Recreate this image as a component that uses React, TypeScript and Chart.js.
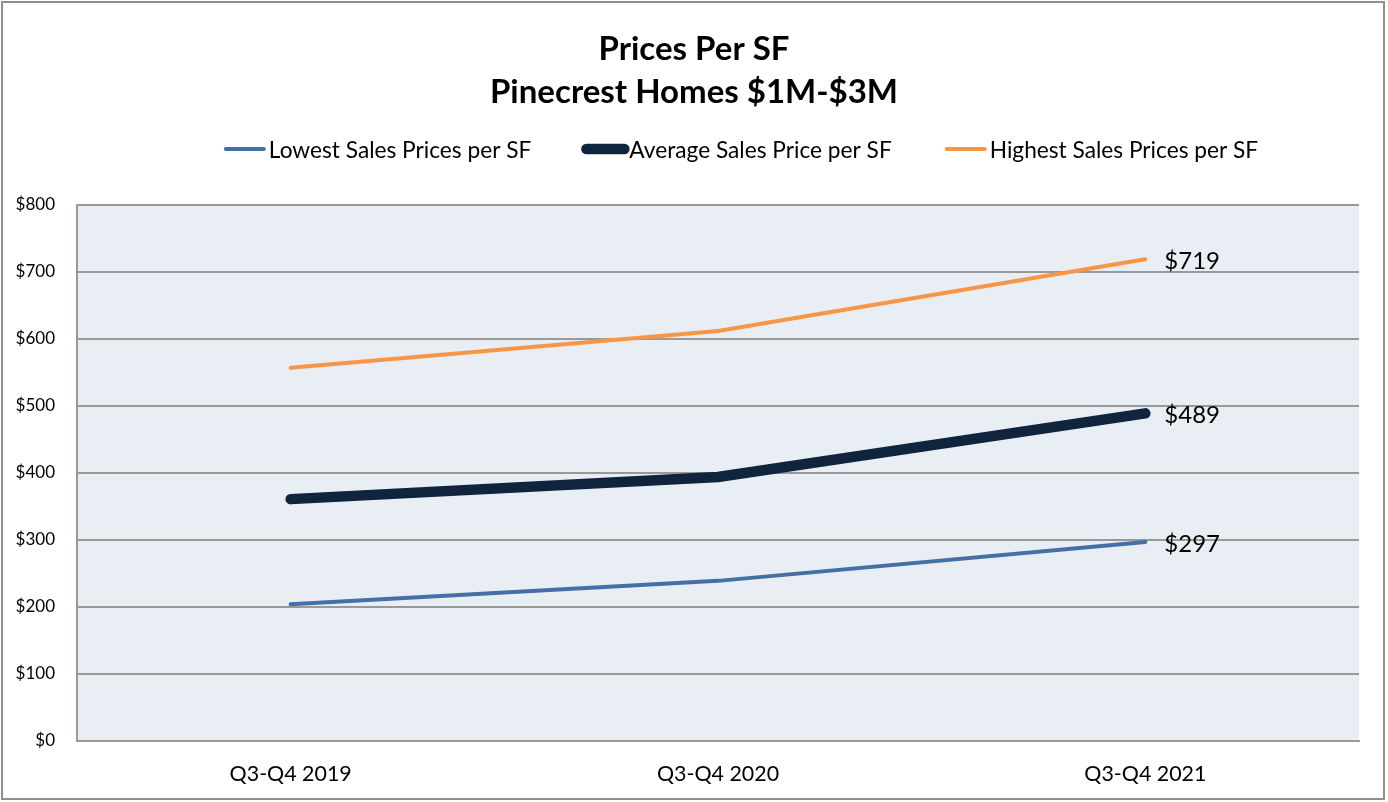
import React, { useEffect, useRef } from "react";
import { Chart, registerables } from "chart.js";

Chart.register(...registerables);

const categories = ["Q3-Q4 2019", "Q3-Q4 2020", "Q3-Q4 2021"];
const lowestValues = [204, 239, 297];
const averageValues = [361, 394, 489];
const highestValues = [557, 612, 719];
const seriesNames = [
  "Lowest Sales Prices per SF",
  "Average Sales Price per SF",
  "Highest Sales Prices per SF",
];
const titleLines = ["Prices Per SF", "Pinecrest Homes $1M-$3M"];

const FONT = "Lato, 'Open Sans', sans-serif";

const plotBg = {
  id: "plotBg",
  beforeDraw(chart: any) {
    const { ctx, chartArea } = chart;
    ctx.save();
    ctx.fillStyle = "#E9EDF4";
    ctx.fillRect(chartArea.left, chartArea.top, chartArea.right - chartArea.left, chartArea.bottom - chartArea.top);
    ctx.restore();
  },
};

const endLabels = {
  id: "endLabels",
  afterDatasetsDraw(chart: any) {
    const { ctx } = chart;
    ctx.save();
    ctx.font = `24px ${FONT}`;
    ctx.fillStyle = "#000";
    ctx.textAlign = "left";
    ctx.textBaseline = "middle";
    chart.data.datasets.forEach((ds: any, i: number) => {
      const meta = chart.getDatasetMeta(i);
      const last = meta.data[meta.data.length - 1];
      const v = ds.data[ds.data.length - 1];
      ctx.fillText(`$${v}`, last.x + 19, last.y + 2);
    });
    ctx.restore();
  },
};

// Legend drawn above the plot, in the space reserved by the title's bottom padding
const customLegend = {
  id: "customLegend",
  afterDraw(chart: any) {
    const { ctx } = chart;
    const sample = 38;
    const gapText = 5;
    const gapItem = 55;
    const centerX = 742;
    const textY = 151;
    const lineY = 149;
    ctx.save();
    ctx.font = `22.7px ${FONT}`;
    const items = chart.data.datasets.map((ds: any) => ({
      text: ds.label,
      color: ds.borderColor,
      width: ds.borderWidth,
      tw: ctx.measureText(ds.label).width,
    }));
    const total =
      items.reduce((s: number, it: any) => s + sample + gapText + it.tw, 0) + gapItem * (items.length - 1);
    let x = centerX - total / 2;
    items.forEach((it: any) => {
      ctx.beginPath();
      ctx.strokeStyle = it.color;
      ctx.lineWidth = it.width;
      ctx.lineCap = "round";
      ctx.moveTo(x, lineY);
      ctx.lineTo(x + sample, lineY);
      ctx.stroke();
      x += sample + gapText;
      ctx.fillStyle = "#000";
      ctx.textAlign = "left";
      ctx.textBaseline = "middle";
      ctx.fillText(it.text, x, textY);
      x += it.tw + gapItem;
    });
    ctx.restore();
  },
};

export default function App() {
  const ref = useRef<HTMLCanvasElement>(null);
  useEffect(() => {
    document.body.style.margin = "0";
    const chart = new Chart(ref.current!, {
      type: "line",
      data: {
        labels: categories,
        datasets: [
          {
            label: seriesNames[0],
            data: lowestValues,
            borderColor: "#4470A5",
            backgroundColor: "#4470A5",
            borderWidth: 4,
            pointRadius: 0,
            borderCapStyle: "round",
          },
          {
            label: seriesNames[1],
            data: averageValues,
            borderColor: "#10243E",
            backgroundColor: "#10243E",
            borderWidth: 10.5,
            pointRadius: 0,
            borderCapStyle: "round",
          },
          {
            label: seriesNames[2],
            data: highestValues,
            borderColor: "#F79646",
            backgroundColor: "#F79646",
            borderWidth: 4,
            pointRadius: 0,
            borderCapStyle: "round",
          },
        ],
      },
      options: {
        animation: false,
        responsive: false,
        maintainAspectRatio: false,
        layout: { padding: { left: 14.5, right: 14.5, top: 0, bottom: 0 } },
        plugins: {
          tooltip: { enabled: false },
          legend: { display: false },
          title: {
            display: true,
            text: titleLines,
            color: "#000",
            font: { family: FONT, size: 33, weight: "bold", lineHeight: 1.303 },
            padding: { top: 27.5, bottom: 91.5 },
          },
        },
        scales: {
          x: {
            offset: true,
            grid: { display: false },
            border: { display: true, color: "#999", width: 2 },
            ticks: { color: "#000", font: { family: FONT, size: 21.4 }, padding: 12 },
            afterFit(scale: any) {
              scale.height = 61;
            },
          },
          y: {
            min: 0,
            max: 800,
            ticks: {
              stepSize: 100,
              color: "#000",
              font: { family: FONT, size: 17 },
              padding: 22,
              callback: (v: any) => `$${v}`,
            },
            grid: { color: "#999", lineWidth: 2, drawTicks: false },
            border: { display: true, color: "#999", width: 2 },
            afterFit(scale: any) {
              scale.width = 62.5;
            },
          },
          yRightSpace: {
            position: "right",
            display: true,
            min: 0,
            max: 1,
            ticks: { display: false },
            grid: { display: false, drawTicks: false },
            border: { display: false },
            afterFit(scale: any) {
              scale.width = 14.5;
            },
          },
        },
      },
      plugins: [plotBg, endLabels, customLegend],
    });
    return () => chart.destroy();
  }, []);
  return (
    <div style={{ position: "absolute", left: 0, top: 0, width: 1388, height: 802, background: "#fff" }}>
      <canvas ref={ref} width={1388} height={802} style={{ width: 1388, height: 802, display: "block" }} />
      <div
        style={{
          position: "absolute",
          left: 1,
          top: 1,
          width: 1384,
          height: 799,
          border: "2px solid #8E8E8E",
          boxSizing: "border-box",
          pointerEvents: "none",
        }}
      />
    </div>
  );
}
